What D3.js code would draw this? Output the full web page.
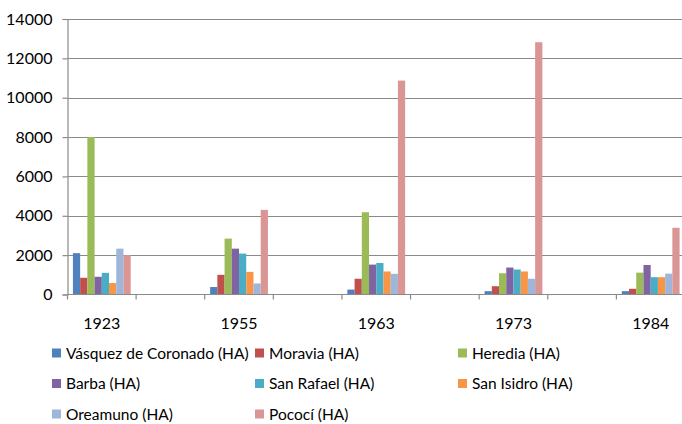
<!DOCTYPE html>
<html>
<head>
<meta charset="utf-8">
<script src="https://cdn.jsdelivr.net/npm/d3@7"></script>
<style>
  body { margin: 0; background: #fff; }
  svg text { font-family: Lato, "Open Sans", sans-serif; fill: #000; }
</style>
</head>
<body>
<script>
// categories (empty slots between the years, as in the source sheet)
var categories = ["1923", "", "1955", "", "1963", "", "1973", "", "1984"];

var seriesNames = ["Vásquez de Coronado (HA)", "Moravia (HA)", "Heredia (HA)",
                   "Barba (HA)", "San Rafael (HA)", "San Isidro (HA)",
                   "Oreamuno (HA)", "Pococí (HA)"];

var vasquez   = [2100, null, 380,  null, 250,   null, 170,   null, 170];
var moravia   = [850,  null, 1000, null, 800,   null, 420,   null, 290];
var heredia   = [8000, null, 2840, null, 4180,  null, 1080,  null, 1110];
var barba     = [900,  null, 2330, null, 1520,  null, 1370,  null, 1500];
var sanRafael = [1100, null, 2080, null, 1600,  null, 1270,  null, 880];
var sanIsidro = [580,  null, 1150, null, 1170,  null, 1170,  null, 880];
var oreamuno  = [2330, null, 560,  null, 1050,  null, 800,   null, 1060];
var pococi    = [2000, null, 4300, null, 10870, null, 12820, null, 3390];

var yTicks = [0, 2000, 4000, 6000, 8000, 10000, 12000, 14000];

var colors = ["#4F81BD", "#C0504D", "#9BBB59", "#8064A2",
              "#4BACC6", "#F79646", "#9EB6DA", "#DA9694"];

var seriesValues = [vasquez, moravia, heredia, barba, sanRafael, sanIsidro, oreamuno, pococi];

var width = 682, height = 424;
var plot = {left: 67.5, right: 685, top: 19, bottom: 294.5};

var svg = d3.select("body").append("svg")
    .attr("width", width)
    .attr("height", height);

var x = d3.scaleBand()
    .domain(d3.range(categories.length))
    .range([plot.left, plot.right])
    .padding(0);

var step = x.bandwidth();
var bw = step / 9.5; // gap width 150%

var xInner = d3.scaleBand()
    .domain(d3.range(seriesNames.length))
    .range([0.75 * bw, step - 0.75 * bw])
    .padding(0);

var y = d3.scaleLinear()
    .domain([0, 14000])
    .range([plot.bottom, plot.top]);

// gridlines
svg.append("g")
  .selectAll("line")
  .data(yTicks.slice(1))
  .enter().append("line")
    .attr("x1", plot.left)
    .attr("x2", plot.right)
    .attr("y1", function(d) { return Math.round(y(d)) + 0.5; })
    .attr("y2", function(d) { return Math.round(y(d)) + 0.5; })
    .style("stroke", "#8a8a8a")
    .style("stroke-width", 1.2);

// bars
var groups = svg.append("g")
  .selectAll("g")
  .data(seriesValues)
  .enter().append("g")
    .style("fill", function(d, i) { return colors[i]; });

groups.each(function(vals, si) {
  d3.select(this).selectAll("rect")
    .data(vals.map(function(v, ci) { return {v: v, ci: ci}; })
              .filter(function(d) { return d.v !== null; }))
    .enter().append("rect")
      .attr("x", function(d) { return x(d.ci) + xInner(si); })
      .attr("width", xInner.bandwidth())
      .attr("y", function(d) { return y(d.v); })
      .attr("height", function(d) { return y(0) - y(d.v); });
});

// y axis
var yAxis = svg.append("g")
    .attr("transform", "translate(" + plot.left + ",0)")
    .call(d3.axisLeft(y).tickValues(yTicks).tickSize(5).tickPadding(10).tickFormat(d3.format("d")));
yAxis.select(".domain").style("stroke", "#8a8a8a").style("stroke-width", 1.2);
yAxis.selectAll(".tick line").style("stroke", "#8a8a8a").style("stroke-width", 1.2);
yAxis.selectAll("text").style("font-size", "16px").style("fill", "#000")
    .style("font-family", "Lato, sans-serif");

// x axis
var xAxisG = svg.append("g")
    .attr("transform", "translate(0," + plot.bottom + ")");
xAxisG.append("line")
    .attr("x1", plot.left).attr("x2", plot.right)
    .style("stroke", "#8a8a8a").style("stroke-width", 1.2);
xAxisG.selectAll(".xt")
  .data(d3.range(categories.length + 1))
  .enter().append("line")
    .attr("class", "xt")
    .attr("x1", function(i) { return plot.left + i * step; })
    .attr("x2", function(i) { return plot.left + i * step; })
    .attr("y1", 0).attr("y2", 5)
    .style("stroke", "#8a8a8a").style("stroke-width", 1.2);
xAxisG.selectAll("text")
  .data(categories)
  .enter().append("text")
    .attr("x", function(d, i) { return x(i) + step / 2; })
    .attr("y", 34)
    .attr("text-anchor", "middle")
    .style("font-size", "16px")
    .text(function(d) { return d; });

// legend
var legend = svg.append("g").selectAll("g")
  .data(seriesNames)
  .enter().append("g")
    .attr("transform", function(d, i) {
      return "translate(" + (52 + (i % 3) * 203) + "," + (353 + Math.floor(i / 3) * 30.5) + ")";
    });
legend.append("rect")
    .attr("x", 0).attr("y", -4.5)
    .attr("width", 9).attr("height", 9)
    .style("fill", function(d, i) { return colors[i]; });
legend.append("text")
    .attr("x", 14).attr("y", 5.5)
    .style("font-size", "15.5px")
    .text(function(d) { return d; });
</script>
</body>
</html>
